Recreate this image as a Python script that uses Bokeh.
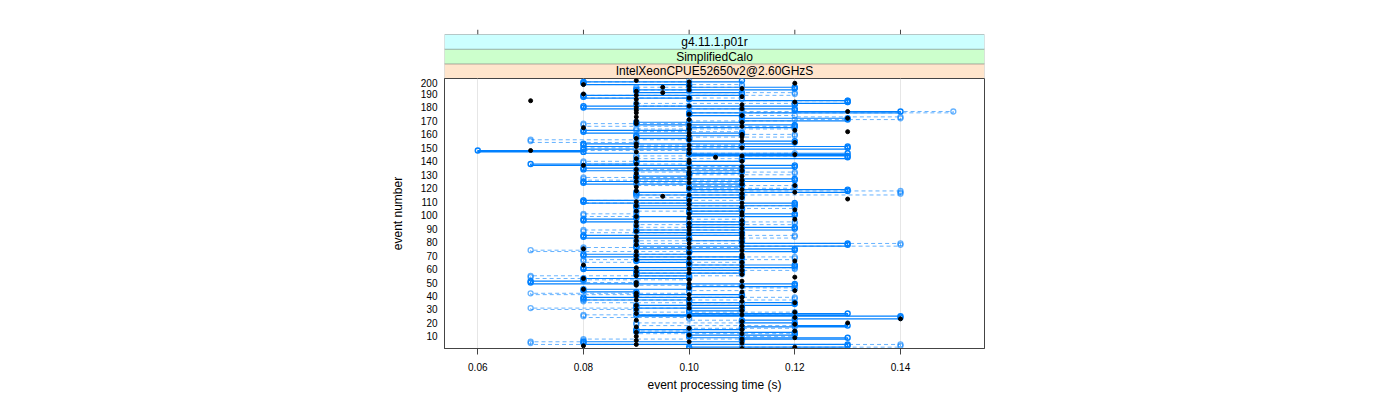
import numpy as np
from bokeh.plotting import figure
from bokeh.layouts import column
from bokeh.models import (Range1d, FixedTicker, NumeralTickFormatter,
                          BoxAnnotation, Label)
from bokeh.embed import file_html
from bokeh.resources import INLINE

# ---------------- data (event processing time in ms, events 1..200) ----------------
events = list(range(1, 201))

time_dots_ms = [
    110, 120, 80, 90, 110, 100, 90, 110, 120, 90, 100, 110, 90, 120, 110, 100, 90, 110, 120, 130,
    110, 90, 140, 120, 100, 110, 90, 120, 110, 90, 100, 110, 90, 100, 120, 110, 90, 100, 110, 90,
    100, 90, 110, 120, 80, 100, 110, 90, 100, 90, 110, 100, 80, 120, 90, 110, 100, 90, 110, 100,
    90, 110, 80, 100, 110, 120, 90, 100, 110, 90, 110, 100, 90, 110, 80, 100, 110, 90, 100, 110,
    90, 100, 110, 90, 110, 100, 110, 90, 100, 110, 100, 90, 110, 100, 90, 110, 120, 100, 90, 110,
    100, 110, 90, 120, 100, 110, 90, 100, 110, 90, 100, 130, 110, 95, 100, 110, 120, 90, 110, 100,
    90, 120, 110, 100, 90, 110, 100, 90, 110, 100, 90, 100, 110, 90, 100, 110, 80, 90, 100, 110,
    100, 90, 105, 110, 120, 100, 90, 70, 100, 110, 90, 100, 90, 120, 110, 100, 90, 110, 100, 110,
    100, 130, 120, 100, 80, 110, 100, 90, 110, 90, 100, 130, 90, 110, 100, 90, 130, 90, 110, 90,
    100, 110, 90, 120, 70, 90, 100, 110, 90, 80, 95, 90, 100, 110, 95, 100, 80, 120, 100, 90,
]

time_solid_ms = [
    100, 100, 130, 130, 80, 80, 110, 110, 130, 100, 100, 120, 120, 90, 90, 110, 110, 130, 120, 120,
    110, 110, 120, 140, 140, 90, 130, 100, 100, 110, 110, 90, 90, 120, 120, 100, 100, 80, 80, 110,
    110, 90, 90, 80, 80, 100, 100, 120, 120, 70, 70, 80, 80, 100, 100, 90, 90, 110, 110, 80,
    80, 120, 120, 100, 100, 90, 90, 110, 110, 80, 80, 100, 100, 120, 120, 90, 90, 130, 130, 110,
    110, 100, 100, 80, 80, 110, 110, 90, 90, 120, 120, 100, 100, 110, 110, 80, 80, 90, 90, 120,
    120, 100, 100, 110, 110, 90, 90, 120, 120, 80, 80, 100, 100, 110, 110, 90, 90, 130, 130, 100,
    100, 110, 110, 80, 80, 120, 120, 90, 90, 100, 100, 110, 110, 80, 80, 120, 120, 70, 90, 90,
    110, 110, 130, 130, 100, 130, 80, 60, 80, 130, 130, 80, 80, 120, 120, 100, 100, 90, 90, 110,
    110, 80, 80, 100, 100, 120, 120, 90, 90, 110, 130, 130, 110, 110, 100, 100, 140, 120, 120, 80,
    80, 120, 120, 130, 130, 100, 100, 80, 80, 110, 110, 90, 90, 120, 120, 100, 100, 80, 80, 110,
]

time_dashed_ms = [
    110, 110, 140, 140, 70, 70, 80, 80, 110, 110, 120, 120, 90, 90, 100, 100, 120, 120, 90, 90,
    110, 110, 100, 100, 80, 80, 120, 120, 90, 90, 70, 100, 100, 110, 110, 80, 80, 120, 120, 90,
    90, 70, 100, 100, 120, 120, 110, 110, 90, 90, 80, 80, 100, 70, 70, 110, 110, 90, 90, 120,
    120, 100, 100, 110, 110, 80, 80, 120, 120, 90, 90, 100, 100, 70, 80, 80, 110, 140, 140, 90,
    90, 110, 110, 120, 120, 100, 100, 80, 80, 110, 110, 90, 90, 120, 120, 100, 100, 110, 110, 80,
    80, 90, 90, 110, 110, 120, 120, 100, 100, 80, 80, 110, 110, 90, 90, 140, 140, 140, 100, 100,
    120, 120, 90, 90, 110, 110, 80, 80, 100, 100, 120, 120, 90, 90, 110, 110, 100, 100, 80, 80,
    110, 110, 90, 90, 120, 120, 100, 100, 80, 80, 110, 110, 90, 90, 70, 70, 100, 100, 120, 120,
    110, 110, 90, 90, 120, 120, 80, 80, 100, 100, 120, 140, 140, 120, 100, 100, 150, 110, 110, 100,
    100, 90, 90, 130, 130, 110, 110, 80, 80, 120, 120, 100, 100, 90, 90, 110, 110, 80, 80, 100,
]

x_ticks = [0.06, 0.08, 0.10, 0.12, 0.14]
y_ticks = list(range(10, 201, 10))
strip_labels = ["IntelXeonCPUE52650v2@2.60GHzS", "SimplifiedCalo", "g4.11.1.p01r"]
strip_colors = ["#ffe5cc", "#ccffcc", "#ccffff"]

# ---------------- helpers ----------------
ev = np.array(events, dtype=float)
t_dots = np.array(time_dots_ms) / 1000.0
t_solid = np.array(time_solid_ms) / 1000.0
t_dashed = np.array(time_dashed_ms) / 1000.0


def step_path(t, e):
    # horizontal first, then vertical (R type="s")
    xs = np.repeat(t, 2)[1:]
    ys = np.repeat(e, 2)[:-1]
    return xs, ys


BLUE = "#0080ff"
FRAME = "#444444"
FONT = "Liberation Sans"

W = 1400
LEFT = 444
FRAME_W = 540
RIGHT = W - LEFT - FRAME_W

STRIP_PX = 44.0
TICK_PX = 5.0
n_strips = len(strip_labels)
tick_units = n_strips * TICK_PX / STRIP_PX

x_range = Range1d(0.0537, 0.1559)

# ---------------- strip figure (with top tick marks) ----------------
top = figure(width=W, height=78, x_range=x_range,
             y_range=Range1d(0, n_strips + tick_units),
             x_axis_location=None, y_axis_location=None, toolbar_location=None,
             output_backend="svg", min_border_left=LEFT, min_border_right=RIGHT,
             min_border_top=29, min_border_bottom=0, outline_line_color=None,
             background_fill_color="white", border_fill_color="white")
top.grid.visible = False
for i, (lab, col) in enumerate(zip(strip_labels, strip_colors)):
    top.add_layout(BoxAnnotation(left=x_range.start, right=x_range.end,
                                 bottom=i, top=i + 1, fill_color=col, fill_alpha=1.0,
                                 line_color=FRAME, line_width=1))
    top.add_layout(Label(x=(x_range.start + x_range.end) / 2, y=i + 0.5, text=lab,
                         text_align="center", text_baseline="middle",
                         text_font=FONT, text_font_size="12px", text_color="black"))
top.segment(x0=x_ticks, y0=[n_strips] * len(x_ticks), x1=x_ticks,
            y1=[n_strips + tick_units] * len(x_ticks), line_color=FRAME, line_width=1)

# ---------------- main figure ----------------
p = figure(width=W, height=320, x_range=x_range, y_range=Range1d(1.0, 201.5),
           toolbar_location=None, output_backend="svg",
           min_border_left=LEFT, min_border_right=RIGHT, min_border_top=0,
           min_border_bottom=50, outline_line_color=FRAME,
           background_fill_color="white", border_fill_color="white")

p.xaxis.ticker = FixedTicker(ticks=x_ticks)
p.xaxis.formatter = NumeralTickFormatter(format="0.00")
p.yaxis.ticker = FixedTicker(ticks=y_ticks)
p.xaxis.axis_label = "event processing time (s)"
p.yaxis.axis_label = "event number"
for ax in (p.xaxis, p.yaxis):
    ax.axis_label_text_font = FONT
    ax.axis_label_text_font_size = "12px"
    ax.axis_label_text_font_style = "normal"
    ax.axis_label_text_color = "black"
    ax.major_label_text_font = FONT
    ax.major_label_text_font_size = "10px"
    ax.major_label_text_color = "black"
    ax.axis_line_color = FRAME
    ax.major_tick_line_color = FRAME
    ax.minor_tick_line_color = None
    ax.major_tick_in = 0
p.xaxis.major_tick_out = 6
p.xaxis.major_label_standoff = 8
p.xaxis.axis_label_standoff = 4
p.yaxis.major_tick_out = 0
p.yaxis.major_label_standoff = 7
p.yaxis.axis_label_standoff = 13

p.ygrid.visible = False
p.xgrid.grid_line_color = "#e6e6e6"
p.xgrid.grid_line_width = 1

xs, ys = step_path(t_dashed, ev)
p.line(xs, ys, line_color=BLUE, line_alpha=0.6, line_width=1.0, line_dash="4 3")
xs, ys = step_path(t_solid, ev)
p.line(xs, ys, line_color=BLUE, line_width=1.2)

p.scatter(t_dashed, ev, marker="circle", size=5, fill_color=None,
          line_color=BLUE, line_alpha=0.6, line_width=1.3)
p.scatter(t_solid, ev, marker="circle", size=5, fill_color=None,
          line_color=BLUE, line_width=1.4)
p.scatter(t_dots, ev, marker="circle", size=4, fill_color="black", line_color="black")

layout = column(top, p)
open("out.html", "w").write(file_html(layout, INLINE))
